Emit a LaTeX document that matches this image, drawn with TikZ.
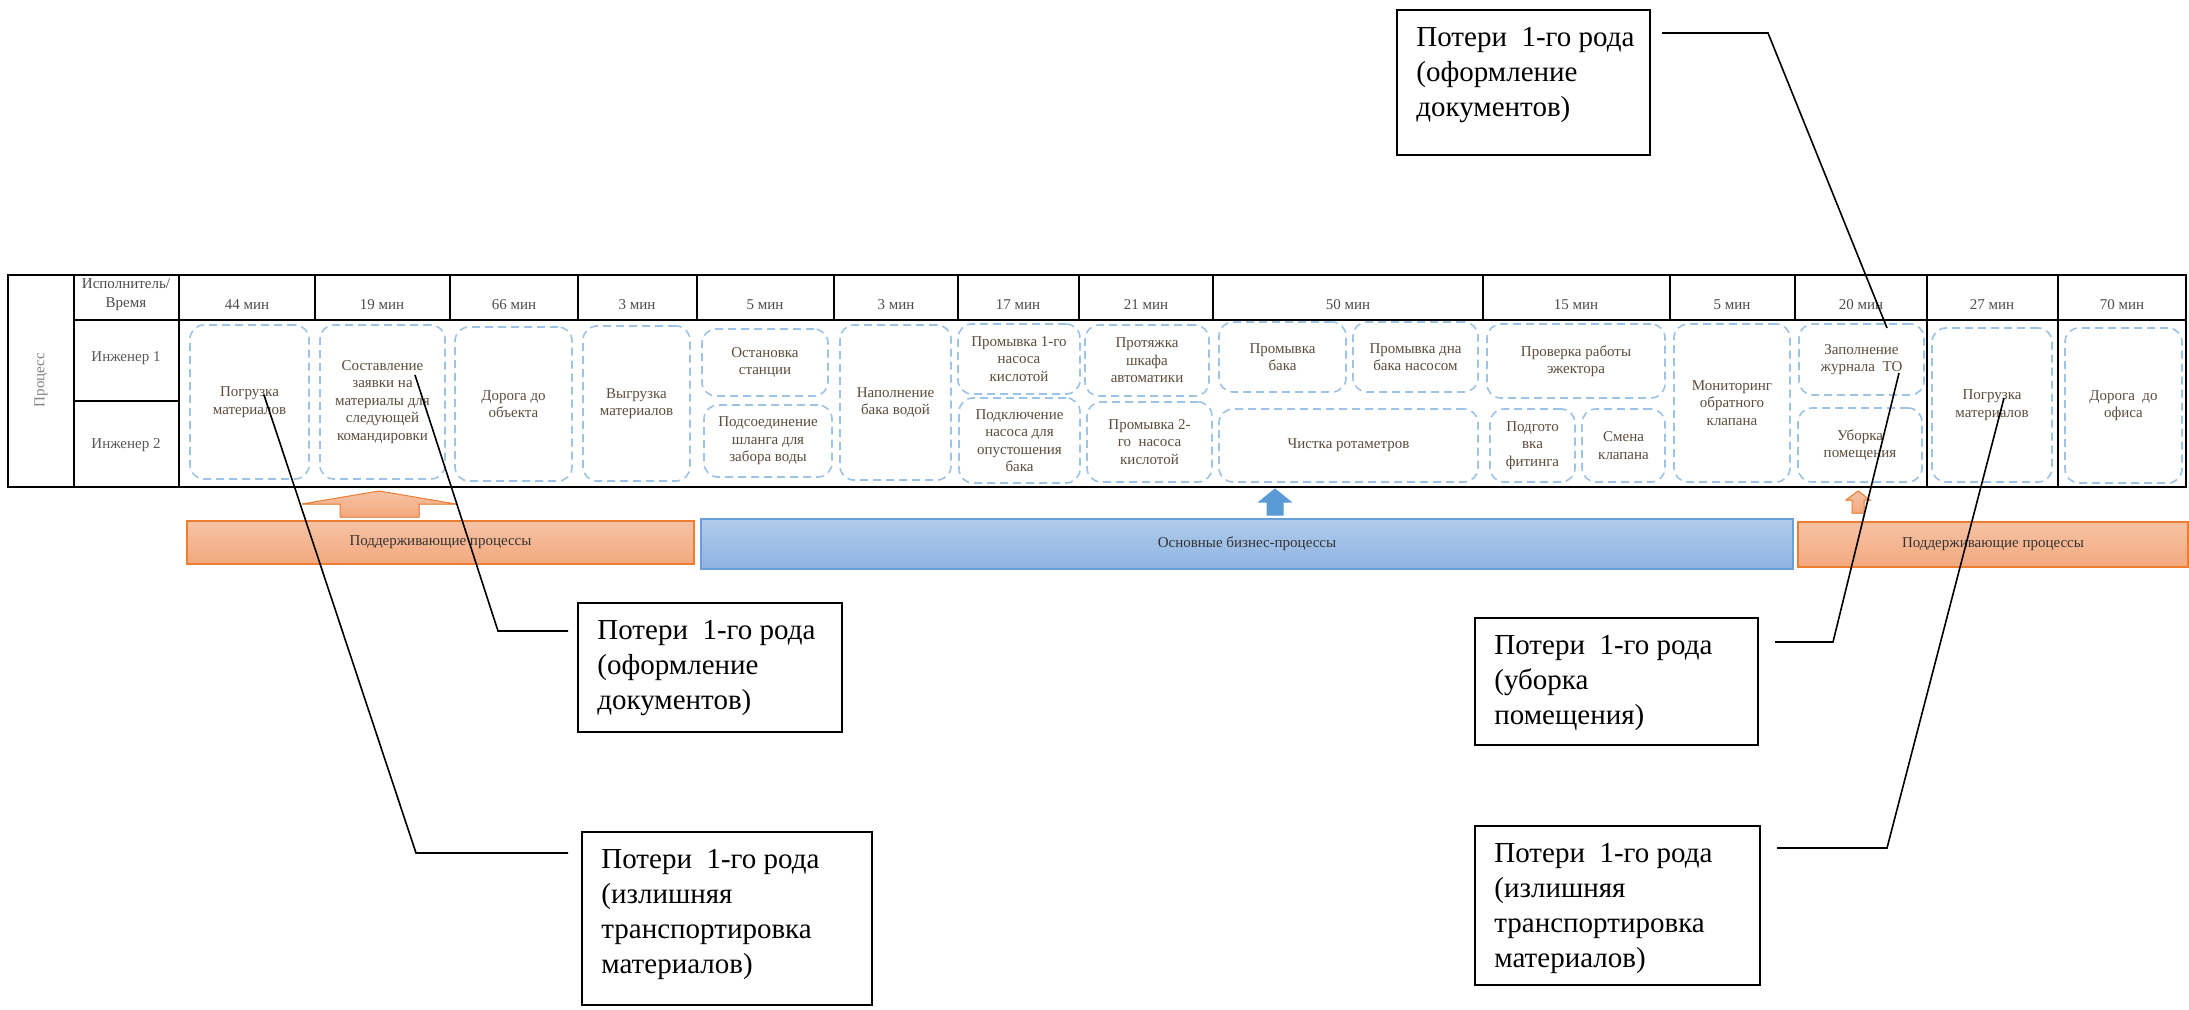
\documentclass[tikz,border=0pt]{standalone}
\usepackage{fontspec}
\setmainfont{Liberation Serif}
\usetikzlibrary{fit}
\definecolor{boxblue}{HTML}{9DC3E6}
\definecolor{txt}{HTML}{5C4C3C}
\definecolor{orfill}{HTML}{F3A97E}
\definecolor{orfilltop}{HTML}{F6C2A4}
\definecolor{orline}{HTML}{ED7D31}
\definecolor{blfilltop}{HTML}{B0CBEB}
\definecolor{blfillbot}{HTML}{8EB3E2}
\definecolor{blline}{HTML}{6A9FD8}
\definecolor{blarrow}{HTML}{5B9BD5}
\begin{document}
\begin{tikzpicture}[x=0.5pt,y=-0.5pt,
 tline/.style={line width=1.1pt, black},
 pbox/.style={draw=boxblue, dash pattern=on 4pt off 2.5pt, line width=0.8pt, rounded corners=7pt, inner sep=0pt},
 ptext/.style={align=center, text=txt, inner sep=0pt, font=\fontsize{7.5}{8.75}\selectfont},
 hdr/.style={font=\fontsize{7.5}{9.5}\selectfont, text=black!70, inner sep=0pt, align=center},
 rowlbl/.style={font=\fontsize{7.5}{9}\selectfont, text=black!65, inner sep=0pt},
 obar/.style={draw=orline, line width=0.8pt, top color=orfilltop, bottom color=orfill, inner sep=0pt},
 bbar/.style={draw=blline, line width=0.8pt, top color=blfilltop, bottom color=blfillbot, inner sep=0pt},
 bartext/.style={inner sep=0pt, font=\fontsize{7.5}{9}\selectfont, text=black!80},
 lossbox/.style={draw=black, line width=1pt, inner sep=0pt},
 losstext/.style={anchor=north west, inner sep=0pt, align=left, font=\fontsize{14.5}{17.5}\selectfont},
 callout/.style={line width=0.8pt, black},
 oarrow/.style={draw=orline, line width=0.5pt, top color=orfilltop, bottom color=orfill},
 barrow/.style={draw=blarrow, line width=0.5pt, fill=blarrow}
]
\fill[white] (0,0) rectangle (2189,1010);
\useasboundingbox (0,0) rectangle (2189,1010);

% ---------- table ----------
\draw[tline] (8,275) rectangle (2186,487);
\foreach \xx in {315,450,578,697,834,958,1079,1213,1483,1670,1795}
  \draw[tline] (\xx,275) -- (\xx,320);
\foreach \xx in {74,179,1927,2058}
  \draw[tline] (\xx,275) -- (\xx,487);
\draw[tline] (74,320) -- (2186,320);
\draw[tline] (74,401) -- (179,401);

\node[rowlbl, rotate=90, text=black!50] (proc) at (41,380) {Процесс};
\node[hdr] (who) at (126,295) {Исполнитель/\\Время};
\node[rowlbl] (eng1) at (126,358) {Инженер 1};
\node[rowlbl] (eng2) at (126,445) {Инженер 2};

\foreach \cx/\lab [count=\i] in {247/44, 382/19, 514/66, 637/3, 765/5, 896/3, 1018/17, 1146/21, 1348/50, 1576/15, 1732/5, 1861/20, 1992/27, 2122/70}
  \node[hdr] (t\i) at (\cx,305) {\lab\ мин};

% ---------- process boxes ----------
\node[pbox, fit={(190,325) (309,479)}, label={[ptext]center:{Погрузка\\материалов}}] (b1) {};
\node[pbox, fit={(320,325) (445,479)}, label={[ptext]center:{Составление\\заявки на\\материалы для\\следующей\\командировки}}] (b2) {};
\node[pbox, fit={(455,327) (572,481)}, label={[ptext]center:{Дорога до\\объекта}}] (b3) {};
\node[pbox, fit={(583,326) (690,481)}, label={[ptext]center:{Выгрузка\\материалов}}] (b4) {};
\node[pbox, fit={(702,329) (828,396)}, label={[ptext]center:{Остановка\\станции}}] (b5a) {};
\node[pbox, fit={(704,405) (832,477)}, label={[ptext]center:{Подсоединение\\шланга для\\забора воды}}] (b5b) {};
\node[pbox, fit={(840,325) (951,480)}, label={[ptext]center:{Наполнение\\бака водой}}] (b6) {};
\node[pbox, fit={(958,324) (1080,394)}, label={[ptext]center:{Промывка 1-го\\насоса\\кислотой}}] (b7a) {};
\node[pbox, fit={(959,398) (1080,483)}, label={[ptext]center:{Подключение\\насоса для\\опустошения\\бака}}] (b7b) {};
\node[pbox, fit={(1085,325) (1209,396)}, label={[ptext]center:{Протяжка\\шкафа\\автоматики}}] (b8a) {};
\node[pbox, fit={(1087,402) (1212,482)}, label={[ptext]center:{Промывка 2-\\го\ \ насоса\\кислотой}}] (b8b) {};
\node[pbox, fit={(1219,322) (1346,392)}, label={[ptext]center:{Промывка\\бака}}] (b9a) {};
\node[pbox, fit={(1353,322) (1478,392)}, label={[ptext]center:{Промывка дна\\бака насосом}}] (b9b) {};
\node[pbox, fit={(1219,409) (1478,482)}, label={[ptext]center:{Чистка ротаметров}}] (b9c) {};
\node[pbox, fit={(1487,324) (1665,398)}, label={[ptext]center:{Проверка работы\\эжектора}}] (b10a) {};
\node[pbox, fit={(1490,409) (1575,482)}, label={[ptext]center:{Подгото\\вка\\фитинга}}] (b10b) {};
\node[pbox, fit={(1582,409) (1665,482)}, label={[ptext]center:{Смена\\клапана}}] (b10c) {};
\node[pbox, fit={(1674,324) (1790,482)}, label={[ptext]center:{Мониторинг\\обратного\\клапана}}] (b11) {};
\node[pbox, fit={(1799,324) (1924,395)}, label={[ptext]center:{Заполнение\\журнала\ \ ТО}}] (b12a) {};
\node[pbox, fit={(1798,408) (1922,482)}, label={[ptext]center:{Уборка\\помещения}}] (b12b) {};
\node[pbox, fit={(1932,328) (2052,482)}, label={[ptext]center:{Погрузка\\материалов}}] (b13) {};
\node[pbox, fit={(2065,328) (2182,483)}, label={[ptext]center:{Дорога\ \ до\\офиса}}] (b14) {};

% ---------- arrows and bars ----------
\filldraw[oarrow] (379,491) -- (456,504) -- (419,504) -- (419,517) -- (340,517) -- (340,504) -- (302,504) -- cycle;
\filldraw[barrow] (1275,489) -- (1291,502) -- (1283,502) -- (1283,515) -- (1267,515) -- (1267,502) -- (1259,502) -- cycle;
\filldraw[oarrow] (1858,491) -- (1870,500) -- (1864,500) -- (1864,513) -- (1852,513) -- (1852,500) -- (1846,500) -- cycle;

\node[obar, fit={(187,521) (694,564)}, label={[bartext]center:Поддерживающие процессы}] (sp1) {};
\node[bbar, fit={(701,519) (1793,569)}, label={[bartext]center:Основные бизнес-процессы}] (core) {};
\node[obar, fit={(1798,522) (2188,567)}, label={[bartext]center:Поддерживающие процессы}] (sp2) {};

% ---------- loss callouts ----------
\node[lossbox, fit={(1397,10) (1650,155)}] (LA) {};
\node[losstext] (LAt) at ([shift={(20,18)}]LA.north west) {Потери\ \ 1-го рода\\(оформление\\документов)};
\node[lossbox, fit={(578,603) (842,732)}] (LB) {};
\node[losstext] (LBt) at ([shift={(20,18)}]LB.north west) {Потери\ \ 1-го рода\\(оформление\\документов)};
\node[lossbox, fit={(582,832) (872,1005)}] (LC) {};
\node[losstext] (LCt) at ([shift={(20,18)}]LC.north west) {Потери\ \ 1-го рода\\(излишняя\\транспортировка\\материалов)};
\node[lossbox, fit={(1475,618) (1758,745)}] (LD) {};
\node[losstext] (LDt) at ([shift={(20,18)}]LD.north west) {Потери\ \ 1-го рода\\(уборка\\помещения)};
\node[lossbox, fit={(1475,826) (1760,985)}] (LE) {};
\node[losstext] (LEt) at ([shift={(20,18)}]LE.north west) {Потери\ \ 1-го рода\\(излишняя\\транспортировка\\материалов)};

\coordinate (a1) at (1662,33);  \coordinate (a2) at (1768,33);  \coordinate (a3) at (1887,328);
\coordinate (c1) at (568,631);  \coordinate (c2) at (498,631);  \coordinate (c3) at (415,375);
\coordinate (d1) at (568,853);  \coordinate (d2) at (416,853);  \coordinate (d3) at (264,395);
\coordinate (e1) at (1775,642); \coordinate (e2) at (1833,642); \coordinate (e3) at (1899,373);
\coordinate (f1) at (1777,848); \coordinate (f2) at (1887,848); \coordinate (f3) at (2004,398);

\draw[callout] (a1) -- (a2) -- (a3);
\draw[callout] (c1) -- (c2) -- (c3);
\draw[callout] (d1) -- (d2) -- (d3);
\draw[callout] (e1) -- (e2) -- (e3);
\draw[callout] (f1) -- (f2) -- (f3);
\end{tikzpicture}
\end{document}
